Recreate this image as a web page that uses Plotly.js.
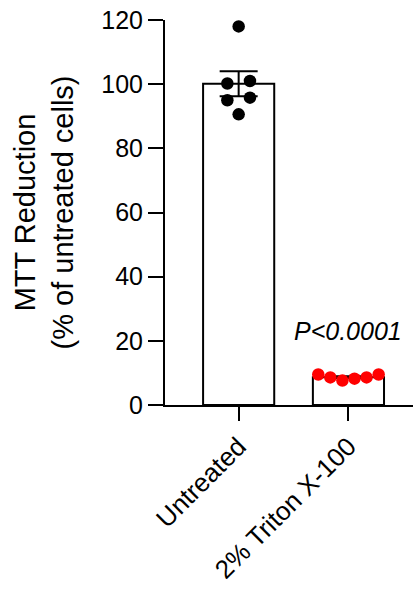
<!DOCTYPE html>
<html>
<head>
<meta charset="utf-8">
<script src="https://cdn.plot.ly/plotly-3.0.1.min.js"></script>
<style>html,body{margin:0;padding:0;background:#fff;}#chart{width:414px;height:589px;}</style>
</head>
<body>
<div id="chart"></div>
<script>
// ---- data ----
const categories = ["Untreated", "2% Triton X-100"];
const untreatedValues = [118.0, 100.2, 101.0, 95.0, 95.8, 90.6];
const tritonValues = [9.5, 8.6, 7.6, 8.2, 8.6, 9.5];
const yTickVals = [0, 20, 40, 60, 80, 100, 120];
const annotationText = "P<0.0001";

// ---- swarm slots (layout, not data) ----
const slots1 = [0, -1, 1, -1, 1, 0];
const slots2 = [-2.5, -1.5, -0.5, 0.5, 1.5, 2.5];
const slotW1 = 0.103, slotW2 = 0.11;

function mean(a){return a.reduce((s,v)=>s+v,0)/a.length;}
function sem(a){const m=mean(a);const sd=Math.sqrt(a.reduce((s,v)=>s+(v-m)*(v-m),0)/(a.length-1));return sd/Math.sqrt(a.length);}

const groups = [untreatedValues, tritonValues];
const means = groups.map(mean);
const sems = groups.map(sem);
const catPos = categories.map((c,i)=>i);

const font = "Liberation Sans, Arial, sans-serif";

const traces = [
  {
    type: "bar", x: catPos, y: means, width: 0.648,
    marker: {color: "#ffffff", line: {color: "#000000", width: 2}},
    error_y: {type: "data", array: sems, visible: true, color: "#000000", thickness: 2, width: 19},
    hoverinfo: "skip"
  },
  {
    type: "scatter", mode: "markers",
    x: untreatedValues.map((v,i)=>0 + slots1[i]*slotW1), y: untreatedValues,
    marker: {color: "#000000", size: 12.5}
  },
  {
    type: "scatter", mode: "markers",
    x: tritonValues.map((v,i)=>1 + slots2[i]*slotW2), y: tritonValues,
    marker: {color: "#ff0000", size: 12.5}
  }
];

const layout = {
  width: 414, height: 589,
  margin: {l: 165, r: 1, t: 20, b: 183.5, pad: 0},
  paper_bgcolor: "#ffffff", plot_bgcolor: "#ffffff",
  showlegend: false,
  font: {family: font, color: "#000000", size: 25},
  xaxis: {
    range: [-0.671, 1.588], tickvals: catPos, ticktext: categories,
    tickangle: -45, ticks: "outside", ticklen: 14, tickwidth: 2, tickcolor: "#000",
    showline: true, linecolor: "#000", linewidth: 2, showgrid: false, zeroline: false,
    tickfont: {family: font, size: 26}
  },
  yaxis: {
    range: [0, 120], tickvals: yTickVals, ticks: "outside", ticklen: 15, tickwidth: 2, tickcolor: "#000",
    showline: true, linecolor: "#000", linewidth: 2, showgrid: false, zeroline: false,
    tickfont: {family: font, size: 25},
    title: {text: "MTT Reduction<br>(% of untreated cells)", font: {family: font, size: 29}, standoff: 19}
  },
  annotations: [{
    x: 1, y: 23, xref: "x", yref: "y", text: "<i>" + annotationText + "</i>", showarrow: false,
    font: {family: font, size: 25}, xanchor: "center", yanchor: "middle"
  }]
};

Plotly.newPlot("chart", traces, layout, {displayModeBar: false, staticPlot: true});
</script>
</body>
</html>
